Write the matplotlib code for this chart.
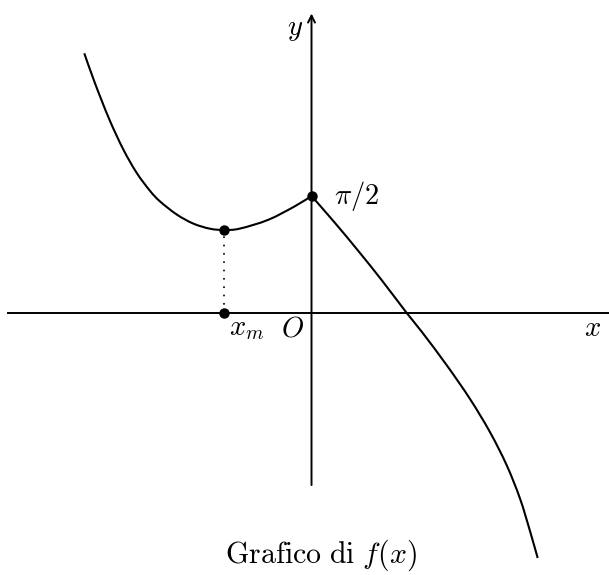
import matplotlib
matplotlib.use("Agg")
import matplotlib.pyplot as plt
from matplotlib.path import Path
from matplotlib.patches import PathPatch
import numpy as np

plt.rcParams['mathtext.fontset'] = 'cm'

# ramo per x <= 0 (minimo in x_m)
x_sin = [-3.050, -2.906, -2.714, -2.526, -2.346, -2.168, -2.034, -1.809,
         -1.587, -1.362, -1.170, -0.960, -0.580, -0.221, 0.0]
y_sin = [3.486, 3.083, 2.599, 2.195, 1.880, 1.640, 1.498, 1.322,
         1.200, 1.131, 1.114, 1.133, 1.251, 1.434, np.pi / 2]

# ramo per x >= 0
x_des = [0.0, 0.315, 0.628, 0.946, 1.278, 1.479, 1.815, 2.128,
         2.396, 2.620, 2.799, 2.933, 3.036]
y_des = [np.pi / 2, 1.209, 0.833, 0.436, 0.0, -0.251, -0.701, -1.155,
         -1.600, -2.044, -2.492, -2.928, -3.289]

# punto di minimo
x_m = -1.170
y_m = 1.114


def curva_liscia(xs, ys):
    # curva morbida passante per i punti (come "smooth" di TikZ)
    p = np.column_stack([xs, ys])
    n = len(p)
    verts = [p[0]]
    codes = [Path.MOVETO]
    for i in range(n - 1):
        p_prec = p[i - 1] if i > 0 else p[i]
        p_succ = p[i + 2] if i + 2 < n else p[i + 1]
        c1 = p[i] + (p[i + 1] - p_prec) / 6
        c2 = p[i + 1] - (p_succ - p[i]) / 6
        verts += [c1, c2, p[i + 1]]
        codes += [Path.CURVE4] * 3
    return PathPatch(Path(verts, codes), facecolor='none',
                     edgecolor='black', lw=1.5, capstyle='butt')


fig = plt.figure(figsize=(6.09, 5.75), dpi=100)
ax = fig.add_axes([0, 0, 1, 1])
ax.set_xlim(-4.181, 3.993)
ax.set_ylim(-3.517, 4.201)
ax.set_aspect('equal')
ax.axis('off')

# assi
ax.plot([-4.074, 3.993], [0, 0], color='black', lw=1.4)
ax.annotate('', xy=(0, 4.02), xytext=(0, -2.31),
            arrowprops=dict(arrowstyle='->,head_length=0.5,head_width=0.25',
                            color='black', lw=1.4, shrinkA=0, shrinkB=0))

# grafico
ax.add_patch(curva_liscia(x_sin, y_sin))
ax.add_patch(curva_liscia(x_des, y_des))

# tratteggio e punti notevoli
ax.plot([x_m, x_m], [0, y_m], color='black', lw=1.2, linestyle=(0, (1, 4)))
ax.plot([x_m, x_m, 0], [0, y_m, np.pi / 2], 'o', color='black', markersize=6.5)

# etichette
ax.annotate(r'$\pi/2$', xy=(0, np.pi / 2), xytext=(16, 0),
            textcoords='offset points', fontsize=20.5, va='center', ha='left')
ax.annotate(r'$x_m$', xy=(x_m, 0), xytext=(3, -11),
            textcoords='offset points', fontsize=20.5, va='center', ha='left')
ax.annotate(r'$O$', xy=(0, 0), xytext=(-14, -11),
            textcoords='offset points', fontsize=20.5, va='center', ha='center')
ax.annotate(r'$x$', xy=(3.993, 0), xytext=(-12, -11),
            textcoords='offset points', fontsize=20.5, va='center', ha='center')
ax.annotate(r'$y$', xy=(0, 4.02), xytext=(-12, -11),
            textcoords='offset points', fontsize=20.5, va='center', ha='center')

ax.text(0.13, -3.25, r'$\mathrm{Grafico\ di}\ f(x)$', fontsize=21.5,
        ha='center', va='center')

fig.savefig('out.png', dpi=100)
